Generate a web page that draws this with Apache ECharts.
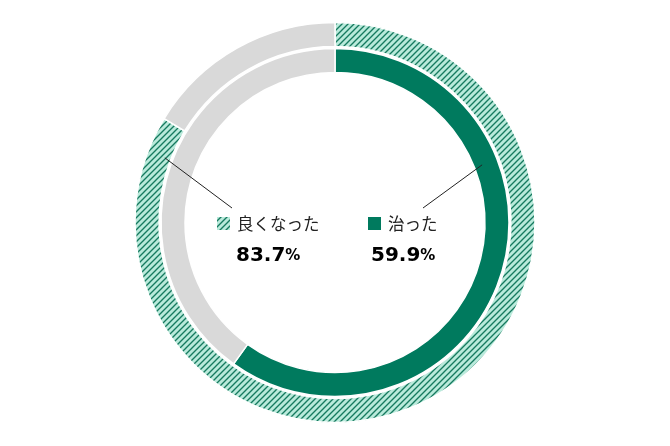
<!DOCTYPE html>
<html>
<head>
<meta charset="utf-8">
<style>
html,body{margin:0;padding:0;background:#fff;}
#chart{width:670px;height:446px;}
</style>
<script src="https://cdn.jsdelivr.net/npm/echarts@6/dist/echarts.min.js"></script>
</head>
<body>
<div id="chart"></div>
<script>
// ---- data ----
var categories = ['良くなった', '治った'];
var improvedValues = [83.7, 16.3];   // outer ring: 良くなった / rest
var curedValues = [59.9, 40.1];      // inner ring: 治った / rest
var percentLabels = ['83.7', '59.9'];

// ---- styles / layout ----
var DARK = '#007a5e';
var MINT = '#b9eadb';
var STRIPE = '#167a5f';
var GRAY = '#d9d9d9';
var CX = 335, CY = 222.5;

function makeHatch() {
  var s = 6;
  var c = document.createElement('canvas');
  c.width = s; c.height = s;
  var g = c.getContext('2d');
  g.fillStyle = MINT;
  g.fillRect(0, 0, s, s);
  g.strokeStyle = STRIPE;
  g.lineWidth = 1.35;
  g.beginPath();
  g.moveTo(-1, 1); g.lineTo(1, -1);
  g.moveTo(0, s); g.lineTo(s, 0);
  g.moveTo(s - 1, s + 1); g.lineTo(s + 1, s - 1);
  g.stroke();
  return c;
}
var hatch = { image: makeHatch(), repeat: 'repeat' };

function polar(angleDeg, r) {
  var a = angleDeg * Math.PI / 180;
  return [CX + r * Math.sin(a), CY - r * Math.cos(a)];
}
var leftStart = polar(290.8, 182);
var rightStart = polar(68.6, 158);

var chart = echarts.init(document.getElementById('chart'), null, { renderer: 'canvas' });

var common = {
  type: 'pie',
  center: [CX, CY],
  startAngle: 90,
  clockwise: true,
  animation: false,
  silent: true,
  z: 1,
  label: { show: false },
  labelLine: { show: false },
  emphasis: { disabled: true }
};

var numRich = {
  n: { fontSize: 20, fontWeight: 'bold', fontFamily: 'DejaVu Sans', color: '#222' },
  p: { fontSize: 15, fontWeight: 'bold', fontFamily: 'DejaVu Sans', color: '#222' }
};

chart.setOption({
  backgroundColor: '#fff',
  animation: false,
  series: [
    Object.assign({}, common, {
      name: 'outer',
      radius: [176, 200],
      data: [
        { value: improvedValues[0], name: categories[0], itemStyle: { color: hatch, borderColor: '#fff', borderWidth: 1.5 } },
        { value: improvedValues[1], name: 'rest1', itemStyle: { color: GRAY, borderColor: '#fff', borderWidth: 1.5 } }
      ]
    }),
    Object.assign({}, common, {
      name: 'inner',
      radius: [150, 174],
      data: [
        { value: curedValues[0], name: categories[1], itemStyle: { color: DARK, borderColor: '#fff', borderWidth: 1.5 } },
        { value: curedValues[1], name: 'rest2', itemStyle: { color: GRAY, borderColor: '#fff', borderWidth: 1.5 } }
      ]
    })
  ],
  graphic: {
    elements: [
      { type: 'line', z: 100, shape: { x1: leftStart[0], y1: leftStart[1], x2: 232, y2: 208 }, style: { stroke: '#222', lineWidth: 1 } },
      { type: 'line', z: 100, shape: { x1: rightStart[0], y1: rightStart[1], x2: 423, y2: 208 }, style: { stroke: '#222', lineWidth: 1 } },
      { type: 'rect', z: 100, shape: { x: 217, y: 217, width: 13, height: 13 }, style: { fill: hatch } },
      { type: 'text', z: 100, x: 237, y: 224, style: { text: categories[0], font: '16.5px "Noto Sans CJK JP"', fill: '#222', verticalAlign: 'middle', align: 'left' } },
      { type: 'rect', z: 100, shape: { x: 368, y: 217, width: 13, height: 13 }, style: { fill: DARK } },
      { type: 'text', z: 100, x: 388, y: 224, style: { text: categories[1], font: '16.5px "Noto Sans CJK JP"', fill: '#222', verticalAlign: 'middle', align: 'left' } },
      { type: 'text', z: 100, x: 236, y: 256, style: { text: '{n|' + percentLabels[0] + '}{p|%}', verticalAlign: 'middle', align: 'left', rich: numRich } },
      { type: 'text', z: 100, x: 371, y: 256, style: { text: '{n|' + percentLabels[1] + '}{p|%}', verticalAlign: 'middle', align: 'left', rich: numRich } }
    ]
  }
});
</script>
</body>
</html>
